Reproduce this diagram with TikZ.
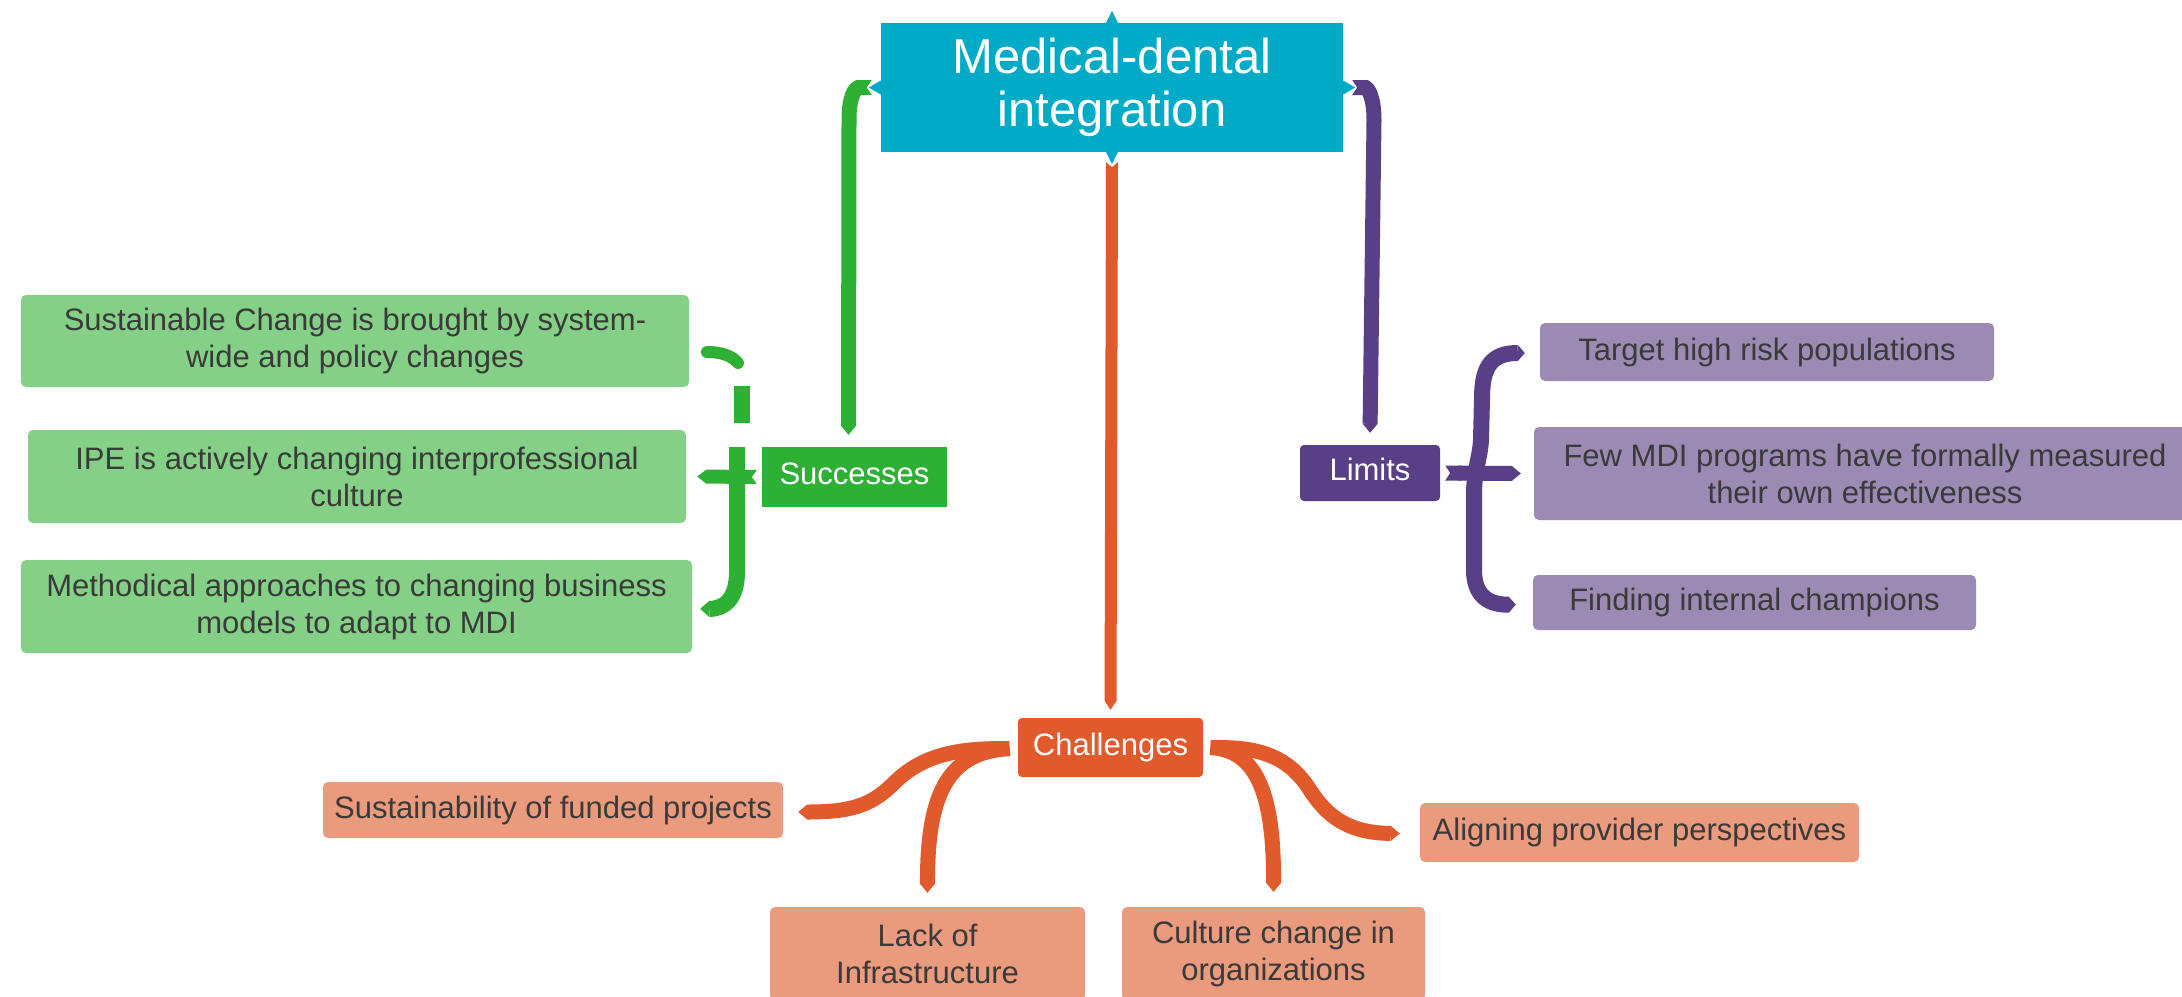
\documentclass[tikz,border=0pt]{standalone}
\usepackage{fontspec}
\setmainfont{Liberation Sans}
\usetikzlibrary{calc,arrows.meta}

\definecolor{mdiCyan}{HTML}{00ABC8}
\definecolor{grDark}{HTML}{2EB035}
\definecolor{grLight}{HTML}{84D086}
\definecolor{puDark}{HTML}{583F86}
\definecolor{puLight}{HTML}{9B8AB4}
\definecolor{orDark}{HTML}{E05A2B}
\definecolor{orLight}{HTML}{EA9A7D}
\definecolor{boxText}{HTML}{3A3A3A}

\tikzset{
  leaf/.style={rounded corners=5pt, inner sep=0pt, text=boxText, align=center,
    font=\fontsize{31}{37}\selectfont},
  hub/.style={inner sep=0pt, text=white, text height=22pt, text depth=7pt,
    font=\fontsize{31}{37}\selectfont},
  branch/.style={line width=#1, line cap=butt},
  taper/.style={-{Triangle[length=9pt,width=#1,line width=0pt]}},
  notched/.style={{Triangle Cap[reversed,length=5pt]}-{Triangle[length=9pt,width=#1,line width=0pt]}},
}

\begin{document}
\begin{tikzpicture}[x=1pt,y=-1pt]
\useasboundingbox (0,0) rectangle (2182,996);

% central topic
\node[fill=mdiCyan, inner sep=0pt, minimum width=462pt, minimum height=129pt,
      text=white, align=center, font=\fontsize{49}{53}\selectfont]
  (mdi) at (1112,87.5) {Medical-dental\\integration};

% main branches
\node[hub, fill=grDark, minimum width=185pt, minimum height=60pt] (succ) at (854.5,477) {Successes};
\node[hub, fill=puDark, rounded corners=4pt, minimum width=140pt, minimum height=56pt] (lim) at (1370,473) {Limits};
\node[hub, fill=orDark, rounded corners=4pt, minimum width=185pt, minimum height=59pt] (chal) at (1110.5,747.5) {Challenges};

% successes
\node[leaf, fill=grLight, minimum width=668pt, minimum height=92pt] (g1) at (355,341)
  {Sustainable Change is brought by system-\\wide and policy changes};
\node[leaf, fill=grLight, minimum width=658pt, minimum height=93pt] (g2) at (357,476.5)
  {IPE is actively changing interprofessional\\culture};
\node[leaf, fill=grLight, minimum width=671pt, minimum height=93pt] (g3) at (356.5,606.5)
  {Methodical approaches to changing business\\models to adapt to MDI};

% limits
\node[leaf, fill=puLight, minimum width=454pt, minimum height=58pt] (p1) at (1767,352)
  {Target high risk populations};
\node[leaf, fill=puLight, minimum width=662pt, minimum height=93pt] (p2) at (1865,473.5)
  {Few MDI programs have formally measured\\their own effectiveness};
\node[leaf, fill=puLight, minimum width=443pt, minimum height=55pt] (p3) at (1754.5,602.5)
  {Finding internal champions};

% challenges
\node[leaf, fill=orLight, minimum width=460pt, minimum height=56pt] (sus) at (553,810)
  {Sustainability of funded projects};
\node[leaf, fill=orLight, minimum width=439pt, minimum height=59pt] (align) at (1639.5,832.5)
  {Aligning provider perspectives};
\node[leaf, fill=orLight, minimum width=315pt, minimum height=93pt] (lack) at (927.5,953.5)
  {Lack of\\Infrastructure};
\node[leaf, fill=orLight, minimum width=303pt, minimum height=93pt] (cult) at (1273.5,953.5)
  {Culture change in\\organizations};

% connectors from the central topic
\draw[grDark, branch=15pt, notched=15pt] ($(mdi.west)+(-9,0)$)
  .. controls (855,87.5) and (849,96) .. (849,120) -- ($(succ.north)+(-6,-12)$);
\draw[puDark, branch=15pt, notched=15pt] ($(mdi.east)+(9,0)$)
  .. controls (1368,87.5) and (1374,97) .. (1374,120) -- ($(lim.north)+(0,-12)$);
\draw[orDark, branch=12pt, notched=12pt] ($(mdi.south)+(0,10)$) -- ($(chal.north)+(0,-8)$);

% successes bracket
\draw[grDark, line width=12pt, line cap=round] (707,352) .. controls (722,352) and (732,356) .. (738,363);
\draw[grDark, branch=16pt] (742,386) -- (742,423);
\draw[grDark, branch=16pt, taper=16pt] (737,447) -- (737,572)
  .. controls (737,598) and (725,609) .. ($(g3.north east)+(8,49)$);
\draw[grDark, branch=14pt, notched=14pt] ($(succ.west)+(-5,0)$) -- ($(g2.east)+(11,0)$);

% limits bracket
\draw[puDark, branch=16pt, {Triangle[length=7pt,width=16pt,line width=0pt]}-{Triangle[length=7pt,width=16pt,line width=0pt]}]
  ($(p1.west)+(-15,1)$) .. controls (1492,353) and (1482,366) .. (1482,398)
  -- (1481,440) .. controls (1480,458) and (1474,470) .. (1474,495)
  -- (1474,570) .. controls (1474,597) and (1490,605) .. ($(p3.west)+(-17,2)$);
\draw[puDark, branch=15pt, notched=15pt] ($(lim.east)+(5,0)$) -- ($(p2.west)+(-13,0)$);

% challenges branches
\draw[orDark, branch=15pt, notched=15pt] ($(chal.west)+(-8,1)$)
  .. controls (950,749) and (918,758) .. (892,785)
  .. controls (870,806) and (850,812) .. ($(sus.east)+(15,2)$);
\draw[orDark, branch=15pt, taper=15pt] ($(chal.west)+(-8,1)$)
  .. controls (950,752) and (927,790) .. ($(lack.north)+(0,-14)$);
\draw[orDark, branch=15pt, notched=15pt] ($(chal.east)+(7,0)$)
  .. controls (1268,748) and (1292,762) .. (1310,790)
  .. controls (1328,818) and (1350,833) .. ($(align.west)+(-20,1)$);
\draw[orDark, branch=15pt, taper=15pt] ($(chal.east)+(7,0)$)
  .. controls (1255,750) and (1274,790) .. ($(cult.north)+(0,-15)$);

% anchor marks on the central topic
\fill[mdiCyan] ($(mdi.north)+(-6,0)$) -- ($(mdi.north)+(0,-12)$) -- ($(mdi.north)+(6,0)$) -- cycle;
\fill[mdiCyan] ($(mdi.south)+(-6,0)$) -- ($(mdi.south)+(0,12)$) -- ($(mdi.south)+(6,0)$) -- cycle;
\fill[mdiCyan] ($(mdi.west)+(0,-7)$) -- ($(mdi.west)+(-12,0)$) -- ($(mdi.west)+(0,7)$) -- cycle;
\fill[mdiCyan] ($(mdi.east)+(0,-7)$) -- ($(mdi.east)+(12,0)$) -- ($(mdi.east)+(0,7)$) -- cycle;
\end{tikzpicture}
\end{document}
